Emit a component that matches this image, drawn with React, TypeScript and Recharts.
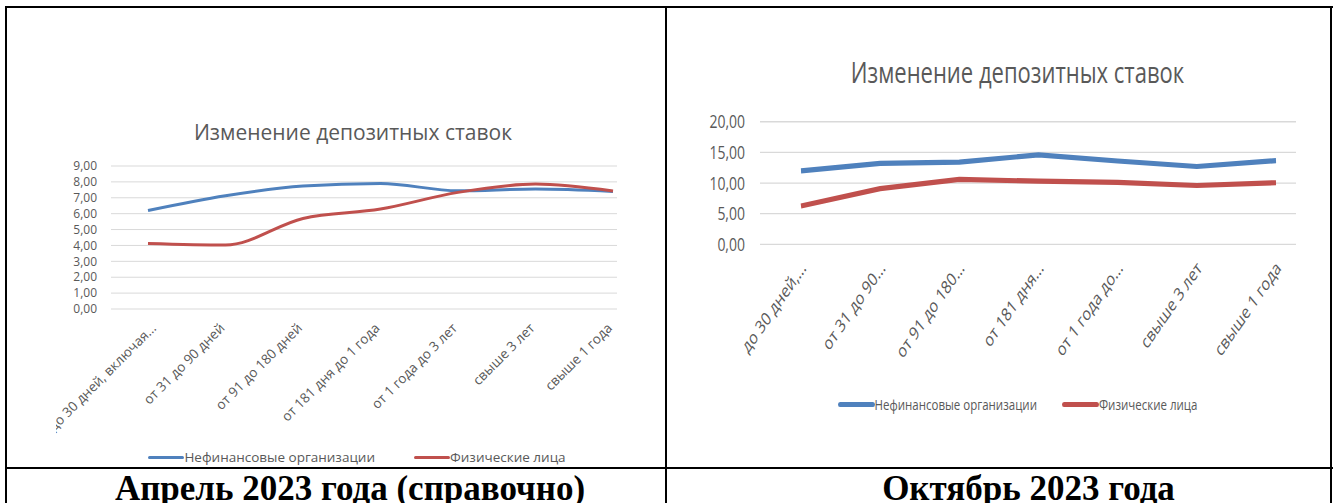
import React from 'react';
import { LineChart, Line, XAxis, YAxis, CartesianGrid, Legend } from 'recharts';

const chartTitle = 'Изменение депозитных ставок';
const seriesNames = ['Нефинансовые организации', 'Физические лица'];
const seriesColors = ['#4F81BD', '#C0504D'];
const captions = ['Апрель 2023 года (справочно)', 'Октябрь 2023 года'];

const categoriesApr = [
  'до 30 дней, включая...',
  'от 31 до 90 дней',
  'от 91 до 180 дней',
  'от 181 дня до 1 года',
  'от 1 года до 3 лет',
  'свыше 3 лет',
  'свыше 1 года',
];
const nonFinApr = [6.2, 7.13, 7.74, 7.9, 7.44, 7.55, 7.4];
const individualsApr = [4.13, 4.03, 5.7, 6.29, 7.34, 7.86, 7.42];
const ticksApr = [0, 1, 2, 3, 4, 5, 6, 7, 8, 9];

const categoriesOct = [
  'до 30 дней,...',
  'от 31 до 90...',
  'от 91 до 180...',
  'от 181 дня...',
  'от 1 года до...',
  'свыше 3 лет',
  'свыше 1 года',
];
const nonFinOct = [12.0, 13.2, 13.4, 14.6, 13.6, 12.7, 13.65];
const individualsOct = [6.25, 9.1, 10.6, 10.3, 10.1, 9.6, 10.05];
const ticksOct = [0, 5, 10, 15, 20];

const aprData = categoriesApr.map((c, i) => ({ category: c, nonFin: nonFinApr[i], ind: individualsApr[i] }));
const octData = categoriesOct.map((c, i) => ({ category: c, nonFin: nonFinOct[i], ind: individualsOct[i] }));

const FONT = "'Open Sans', 'Noto Sans', sans-serif";
const SERIF = "'Liberation Serif', 'Times New Roman', serif";
const GRAY = '#595959';
const fmt = (v: number) => v.toFixed(2).replace('.', ',');

const makeTick = (fontSize: number, dx: number, dy: number, angle: number, firstDx: number) => (props: any) => {
  const { x, y, payload, index } = props;
  const ax = x + dx + (index === 0 ? firstDx : 0);
  const ay = y + dy;
  return (
    <text
      x={ax}
      y={ay}
      transform={`rotate(${angle} ${ax} ${ay})`}
      textAnchor="end"
      fill={GRAY}
      fontSize={fontSize}
      fontFamily={FONT}
    >
      {payload.value}
    </text>
  );
};

const makeLegend = (fontSize: number, sampleW: number, sampleH: number, gap: number, shift: number, lineH: number) => (props: any) => {
  const { payload } = props;
  return (
    <div
      style={{
        display: 'flex',
        justifyContent: 'center',
        alignItems: 'center',
        fontFamily: FONT,
        fontSize,
        lineHeight: `${lineH}px`,
        color: GRAY,
        paddingLeft: shift > 0 ? shift : 0,
        paddingRight: shift < 0 ? -shift : 0,
        whiteSpace: 'nowrap',
      }}
    >
      {(payload || []).map((e: any, i: number) => (
        <div key={i} style={{ display: 'flex', alignItems: 'center', marginRight: i < payload.length - 1 ? gap : 0 }}>
          <svg width={sampleW} height={sampleH + 2} style={{ display: 'block' }}>
            <line
              x1={sampleH / 2}
              x2={sampleW - sampleH / 2}
              y1={(sampleH + 2) / 2}
              y2={(sampleH + 2) / 2}
              stroke={e.color}
              strokeWidth={sampleH}
              strokeLinecap="round"
            />
          </svg>
          <span>{e.value}</span>
        </div>
      ))}
    </div>
  );
};

const AprTick = makeTick(13.5, 0, 20, -45, 9);
const OctTick = makeTick(14, 6, 19, -48, 0);
const AprLegend = makeLegend(13.5, 36, 3, 39, -8, 20);
const OctLegend = makeLegend(11.5, 37, 4, 25, 37, 18);

const S = 1.3;
const OCT_H = 354;

const captionStyle: React.CSSProperties = {
  position: 'absolute',
  top: 471,
  textAlign: 'center',
  fontFamily: SERIF,
  fontWeight: 'bold',
  fontSize: 35,
  lineHeight: '36px',
  color: '#000',
  boxSizing: 'border-box',
  whiteSpace: 'nowrap',
};

export default function App() {
  return (
    <div
      style={{
        position: 'absolute',
        left: 0,
        top: 0,
        width: 1335,
        height: 503,
        overflow: 'hidden',
        background: '#fff',
      }}
    >
      {/* table borders */}
      <div style={{ position: 'absolute', left: 5, top: 6, width: 1328, height: 2, background: '#000' }} />
      <div style={{ position: 'absolute', left: 5, top: 6, width: 2, height: 497, background: '#000' }} />
      <div style={{ position: 'absolute', left: 665, top: 6, width: 2, height: 497, background: '#000' }} />
      <div style={{ position: 'absolute', left: 1330, top: 6, width: 2, height: 497, background: '#000' }} />
      <div style={{ position: 'absolute', left: 5, top: 467, width: 1328, height: 2, background: '#000' }} />

      {/* April chart */}
      <div style={{ position: 'absolute', left: 56, top: 8, width: 610, height: 459 }}>
        <div
          style={{
            position: 'absolute',
            left: 0,
            width: 610,
            top: 111,
            textAlign: 'center',
            fontFamily: FONT,
            fontSize: 21,
            lineHeight: '27px',
            color: GRAY,
            paddingRight: 16,
            boxSizing: 'border-box',
          }}
        >
          {chartTitle}
        </div>
        <LineChart width={610} height={459} data={aprData} margin={{ top: 158, right: 49, bottom: 58, left: 0 }}>
          <CartesianGrid vertical={false} stroke="#D9D9D9" strokeWidth={1} />
          <XAxis
            dataKey="category"
            axisLine={false}
            tickLine={false}
            tickSize={0}
            tickMargin={0}
            interval={0}
            height={100}
            padding={{ left: 37, right: 4 }}
            tick={AprTick}
          />
          <YAxis
            domain={[0, 9]}
            ticks={ticksApr}
            interval={0}
            axisLine={false}
            tickLine={false}
            tickSize={0}
            tickMargin={14}
            width={55}
            tickFormatter={fmt}
            tick={{ fill: GRAY, fontSize: 12, fontFamily: FONT }}
          />
          <Legend
            layout="horizontal"
            verticalAlign="middle"
            align="center"
            wrapperStyle={{ left: 0, top: 439, width: 610 }}
            content={AprLegend}
          />
          <Line
            type="monotone"
            dataKey="nonFin"
            name={seriesNames[0]}
            stroke={seriesColors[0]}
            strokeWidth={3}
            dot={false}
            isAnimationActive={false}
          />
          <Line
            type="monotone"
            dataKey="ind"
            name={seriesNames[1]}
            stroke={seriesColors[1]}
            strokeWidth={3}
            dot={false}
            isAnimationActive={false}
          />
        </LineChart>
      </div>

      {/* October chart (vertically stretched like the source) */}
      <div
        style={{
          position: 'absolute',
          left: 668,
          top: 8,
          width: 662,
          height: OCT_H,
          transform: `scaleY(${S})`,
          transformOrigin: 'top left',
        }}
      >
        <div
          style={{
            position: 'absolute',
            left: 0,
            width: 662,
            top: 35.5,
            textAlign: 'center',
            fontFamily: FONT,
            fontSize: 22,
            lineHeight: '26px',
            color: GRAY,
            paddingLeft: 37,
            boxSizing: 'border-box',
          }}
        >
          {chartTitle}
        </div>
        <LineChart width={662} height={OCT_H} data={octData} margin={{ top: 87.5, right: 34, bottom: 72.2, left: 0 }}>
          <CartesianGrid vertical={false} stroke="#D9D9D9" strokeWidth={1} />
          <XAxis
            dataKey="category"
            axisLine={false}
            tickLine={false}
            tickSize={0}
            tickMargin={0}
            interval={0}
            height={100}
            padding={{ left: 41, right: 20 }}
            tick={OctTick}
          />
          <YAxis
            domain={[0, 20]}
            ticks={ticksOct}
            interval={0}
            axisLine={false}
            tickLine={false}
            tickSize={0}
            tickMargin={15}
            width={92}
            tickFormatter={fmt}
            tick={{ fill: GRAY, fontSize: 14, fontFamily: FONT }}
          />
          <Legend
            layout="horizontal"
            verticalAlign="middle"
            align="center"
            wrapperStyle={{ left: 0, top: 296, width: 662 }}
            content={OctLegend}
          />
          <Line
            type="linear"
            dataKey="nonFin"
            name={seriesNames[0]}
            stroke={seriesColors[0]}
            strokeWidth={4}
            strokeLinejoin="round"
            dot={false}
            isAnimationActive={false}
          />
          <Line
            type="linear"
            dataKey="ind"
            name={seriesNames[1]}
            stroke={seriesColors[1]}
            strokeWidth={4}
            strokeLinejoin="round"
            dot={false}
            isAnimationActive={false}
          />
        </LineChart>
      </div>

      {/* captions */}
      <div style={{ ...captionStyle, left: 7, width: 658, paddingLeft: 28 }}>{captions[0]}</div>
      <div style={{ ...captionStyle, left: 667, width: 663, paddingLeft: 60 }}>{captions[1]}</div>
    </div>
  );
}
